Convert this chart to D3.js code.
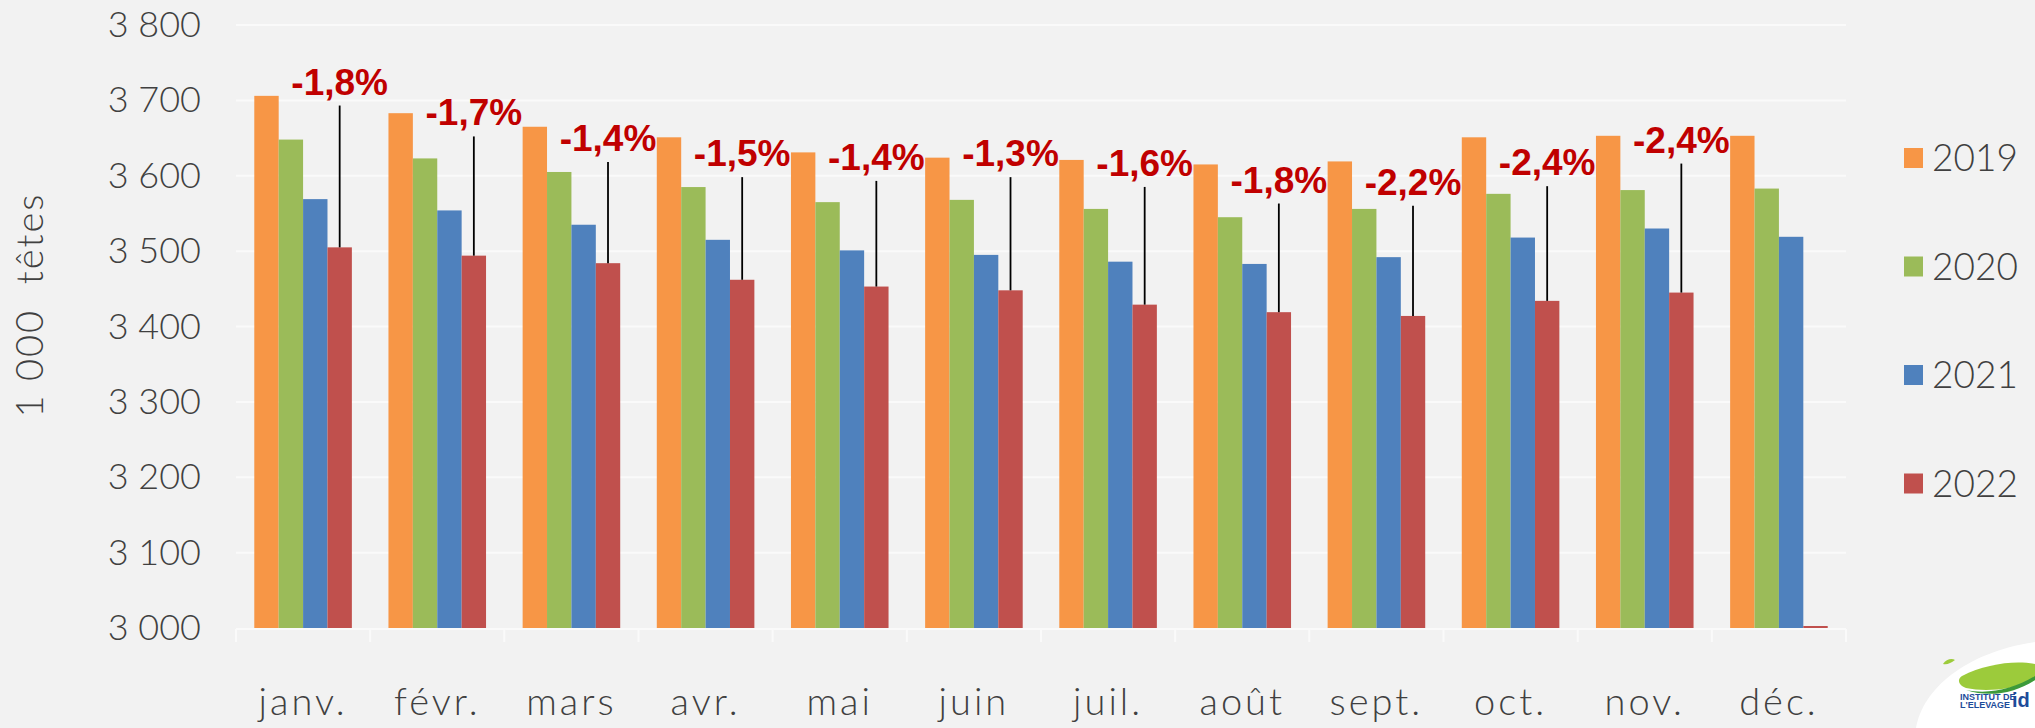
<!DOCTYPE html>
<html>
<head>
<meta charset="utf-8">
<script src="https://cdn.jsdelivr.net/npm/d3@7"></script>
<style>
  body { margin: 0; background: #f2f2f2; }
  svg { display: block; }
  .lbl { font-family: Lato, "Open Sans", sans-serif; font-weight: 300; fill: #404040; }
</style>
</head>
<body>
<div class="chart"></div>
<script>
// data (1 000 head)
var months = ["janv.", "févr.", "mars", "avr.", "mai", "juin", "juil.", "août", "sept.", "oct.", "nov.", "déc."];
var years = ["2019", "2020", "2021", "2022"];
var v2019 = [3706, 3683, 3665, 3651, 3631, 3624, 3621, 3615, 3619, 3651, 3653, 3653];
var v2020 = [3648, 3623, 3605, 3585, 3565, 3568, 3556, 3545, 3556, 3576, 3581, 3583];
var v2021 = [3569, 3554, 3535, 3515, 3501, 3495, 3486, 3483, 3492, 3518, 3530, 3519];
var v2022 = [3505, 3494, 3484, 3462, 3453, 3448, 3429, 3419, 3414, 3434, 3445, 0];
var colors = ["#F79646", "#9BBB59", "#4F81BD", "#C0504D"];
// yearly change labels (2022 vs 2021) and the level where each label sits
var changeLabels = ["-1,8%", "-1,7%", "-1,4%", "-1,5%", "-1,4%", "-1,3%", "-1,6%", "-1,8%", "-2,2%", "-2,4%", "-2,4%"];
var labelLevels = [3725, 3684, 3650, 3630, 3625, 3630, 3617, 3595, 3592, 3618, 3648];
var yTicks = [3000, 3100, 3200, 3300, 3400, 3500, 3600, 3700, 3800];

var svgWidth = 2035;
var svgHeight = 728;
var plot = { left: 236, right: 1846, top: 25, bottom: 628 };

var series = [v2019, v2020, v2021, v2022];

var svg = d3.select(".chart")
  .append("svg")
  .attr("width", svgWidth)
  .attr("height", svgHeight);

var x0 = d3.scaleBand()
  .domain(months)
  .range([plot.left, plot.right])
  .paddingInner(0.2727)
  .paddingOuter(0.13635);

var x1 = d3.scaleBand()
  .domain(years)
  .range([0, x0.bandwidth()]);

var y = d3.scaleLinear()
  .domain([3000, 3800])
  .range([plot.bottom, plot.top])
  .clamp(true);

var fr = d3.formatLocale({ decimal: ",", thousands: " ", grouping: [3], currency: ["", "€"] });

// gridlines
svg.append("g")
  .selectAll("line")
  .data(yTicks.slice(1))
  .join("line")
  .attr("x1", plot.left)
  .attr("x2", plot.right)
  .attr("y1", d => y(d))
  .attr("y2", d => y(d))
  .attr("stroke", "#fafafa")
  .attr("stroke-width", 2);

// y axis
var yAxis = svg.append("g")
  .attr("transform", `translate(${plot.left},0)`)
  .call(d3.axisLeft(y).tickValues(yTicks).tickSize(0).tickPadding(35).tickFormat(fr.format(",")));
yAxis.select(".domain").remove();
yAxis.selectAll("text")
  .attr("font-size", 36)
  .attr("font-family", "Lato, sans-serif")
  .attr("font-weight", 300)
  .attr("fill", "#404040");

// bars
var groups = svg.append("g")
  .selectAll("g")
  .data(months)
  .join("g")
  .attr("transform", d => `translate(${x0(d)},0)`);

groups.selectAll("rect")
  .data((m, i) => years.map((yr, k) => ({ year: yr, value: series[k][i], k: k })))
  .join("rect")
  .attr("x", d => x1(d.year))
  .attr("width", x1.bandwidth())
  .attr("y", d => Math.min(y(d.value), plot.bottom - 2))
  .attr("height", d => Math.max(plot.bottom - y(d.value), 2))
  .attr("fill", d => colors[d.k]);

// x axis baseline and ticks
svg.append("line")
  .attr("x1", plot.left).attr("x2", plot.right)
  .attr("y1", plot.bottom + 1).attr("y2", plot.bottom + 1)
  .attr("stroke", "#fafafa").attr("stroke-width", 2);

var bounds = months.map(m => x0(m) - x0.step() * x0.paddingOuter());
bounds.push(plot.right);
svg.append("g")
  .selectAll("line")
  .data(bounds)
  .join("line")
  .attr("x1", d => d).attr("x2", d => d)
  .attr("y1", plot.bottom + 1).attr("y2", plot.bottom + 14)
  .attr("stroke", "#fafafa").attr("stroke-width", 2);

svg.append("g")
  .selectAll("text")
  .data(months)
  .join("text")
  .attr("class", "lbl")
  .attr("x", d => x0(d) + x0.bandwidth() / 2)
  .attr("y", 715)
  .attr("text-anchor", "middle")
  .attr("font-size", 38)
  .attr("letter-spacing", 3)
  .text(d => d);

// y axis title
svg.append("text")
  .attr("class", "lbl")
  .attr("transform", "translate(43,305) rotate(-90)")
  .attr("text-anchor", "middle")
  .attr("font-size", 38)
  .attr("letter-spacing", 2)
  .style("white-space", "pre")
  .text("1 000  têtes");

// change annotations with leader lines
var ann = svg.append("g")
  .selectAll("g")
  .data(changeLabels)
  .join("g");

ann.append("line")
  .attr("x1", (d, i) => x0(months[i]) + x1("2022") + x1.bandwidth() / 2)
  .attr("x2", (d, i) => x0(months[i]) + x1("2022") + x1.bandwidth() / 2)
  .attr("y1", (d, i) => y(labelLevels[i]) + 24)
  .attr("y2", (d, i) => y(v2022[i]))
  .attr("stroke", "#000")
  .attr("stroke-width", 1.8);

ann.append("text")
  .attr("x", (d, i) => x0(months[i]) + x1("2022") + x1.bandwidth() / 2)
  .attr("y", (d, i) => y(labelLevels[i]) + 13)
  .attr("text-anchor", "middle")
  .attr("font-family", "'Liberation Sans', Arial, sans-serif")
  .attr("font-weight", "bold")
  .attr("font-size", 37)
  .attr("fill", "#C00000")
  .text(d => d);

// legend
var legend = svg.append("g")
  .selectAll("g")
  .data(years)
  .join("g")
  .attr("transform", (d, i) => `translate(1904,${158 + i * 108.5})`);

legend.append("rect")
  .attr("x", 0).attr("y", -10)
  .attr("width", 19).attr("height", 20)
  .attr("fill", (d, i) => colors[i]);

legend.append("text")
  .attr("class", "lbl")
  .attr("x", 28)
  .attr("y", 13)
  .attr("font-size", 37)
  .text(d => d);

// logo in the corner
var logo = svg.append("g");
logo.append("path")
  .attr("d", "M1916,728 C1922,690 1965,652 2035,642 L2035,728 Z")
  .attr("fill", "#ffffff");
logo.append("path")
  .attr("d", "M1962,676 C1985,664 2015,660 2035,664 L2035,680 C2012,690 1985,692 1966,688 C1958,685 1957,679 1962,676 Z")
  .attr("fill", "#9CCB3B");
logo.append("path")
  .attr("d", "M1966,690 C1990,695 2015,688 2035,676 L2035,680 C2015,693 1990,698 1966,690 Z")
  .attr("fill", "#3C9A3A");
logo.append("path")
  .attr("d", "M1943,664 C1946,659 1952,658 1955,660 C1951,663 1947,665 1943,664 Z")
  .attr("fill", "#9CCB3B");
logo.append("text")
  .attr("x", 1960).attr("y", 700)
  .attr("font-family", "'Liberation Sans Narrow', 'Liberation Sans', sans-serif")
  .attr("font-weight", "bold").attr("font-size", 9)
  .attr("fill", "#1E4C9A")
  .text("INSTITUT DE");
logo.append("text")
  .attr("x", 1960).attr("y", 708)
  .attr("font-family", "'Liberation Sans Narrow', 'Liberation Sans', sans-serif")
  .attr("font-weight", "bold").attr("font-size", 9)
  .attr("fill", "#1E4C9A")
  .text("L'ELEVAGE");
logo.append("text")
  .attr("x", 2012).attr("y", 707)
  .attr("font-family", "'Liberation Sans', sans-serif")
  .attr("font-weight", "bold").attr("font-size", 20)
  .attr("fill", "#1E4C9A")
  .text("id");
</script>
</body>
</html>
